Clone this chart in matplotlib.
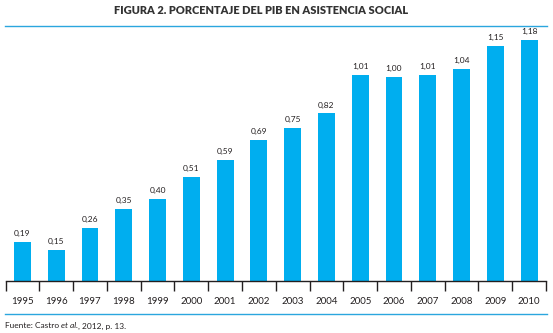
import matplotlib
matplotlib.use("Agg")
import matplotlib.pyplot as plt
from matplotlib.lines import Line2D

years = ["1995", "1996", "1997", "1998", "1999", "2000", "2001", "2002",
         "2003", "2004", "2005", "2006", "2007", "2008", "2009", "2010"]
values = [0.19, 0.15, 0.26, 0.35, 0.40, 0.51, 0.59, 0.69,
          0.75, 0.82, 1.01, 1.00, 1.01, 1.04, 1.15, 1.18]
title = "FIGURA 2. PORCENTAJE DEL PIB EN ASISTENCIA SOCIAL"

plt.rcParams['font.family'] = ['Lato', 'DejaVu Sans']

W, H = 553, 333
fig = plt.figure(figsize=(W / 100, H / 100), dpi=100)
bar_color = "#00AEEF"
line_color = "#2BA6DE"
text_color = "#231F20"

x0, x1 = 5.5, 546.0
ybase, ytop = 280.7, 26.0
ax = fig.add_axes([x0 / W, 1 - ybase / H, (x1 - x0) / W, (ybase - ytop) / H])
xs = list(range(len(years)))
ax.bar(xs, values, width=0.5, color=bar_color, zorder=2)
ax.set_xlim(-0.5, len(years) - 0.5)
ax.set_ylim(0, (ybase - ytop) / 204.0)
for s in ["left", "right", "top"]:
    ax.spines[s].set_visible(False)
ax.spines["bottom"].set_color(text_color)
ax.spines["bottom"].set_linewidth(1.0)
ax.set_yticks([])
ax.set_xticks([i - 0.5 for i in range(len(years) + 1)])
ax.set_xticklabels([])
ax.tick_params(axis="x", direction="out", length=7, width=1.0, color=text_color)
for x, y in zip(xs, years):
    ax.text(x, -0.102, y, ha="center", va="center", fontsize=7, color=text_color)
for x, v in zip(xs, values):
    ax.annotate(f"{v:.2f}".replace(".", ","), (x, v), xytext=(0, 3.5),
                textcoords="offset points", ha="center", va="bottom",
                fontsize=6, color=text_color)

# top and bottom blue rules
fig.add_artist(Line2D([5 / W, 547 / W], [1 - 26 / H, 1 - 26 / H], color=line_color, lw=1.0))
fig.add_artist(Line2D([5 / W, 547 / W], [1 - 314.3 / H, 1 - 314.3 / H], color=line_color, lw=1.0))

fig.text(261.5 / W, 1 - 11 / H, title, ha="center", va="center", fontsize=7.9,
         fontweight="heavy", color="#333333")

# source line with italic "et al."
renderer = fig.canvas.get_renderer()
parts = [("Fuente: Castro ", "normal"), ("et al.", "italic"), (", 2012, p. 13.", "normal")]
xpos = 5.0
for txt, style in parts:
    t = fig.text(xpos / W, 1 - 326 / H, txt, ha="left", va="center", fontsize=6,
                 style=style, color=text_color)
    bb = t.get_window_extent(renderer=renderer)
    xpos += bb.width

fig.savefig("out.png", dpi=100)
